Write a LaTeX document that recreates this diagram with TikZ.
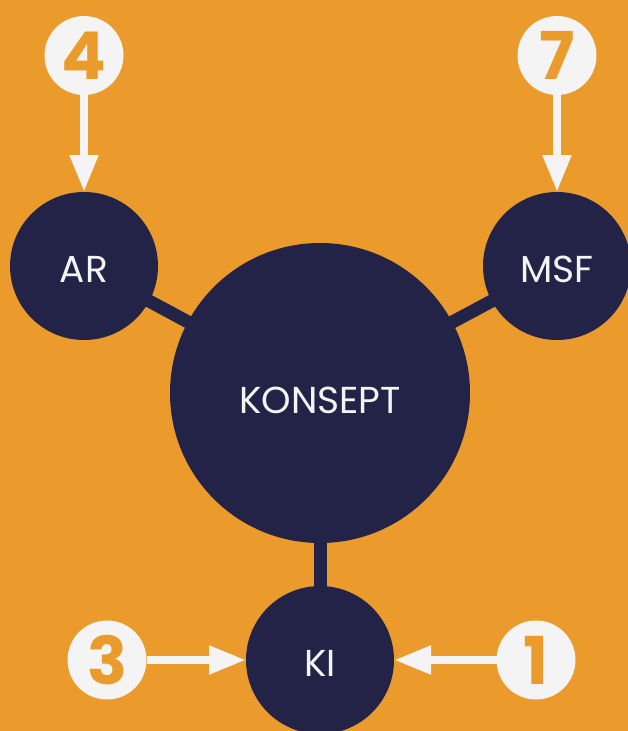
\documentclass[tikz,border=0pt]{standalone}
\usepackage{fontspec}
\setmainfont{Poppins}
\usetikzlibrary{arrows.meta}
\definecolor{bgorange}{HTML}{EB9B2C}
\definecolor{navy}{HTML}{222347}
\definecolor{offwhite}{HTML}{F4F4F4}
\tikzset{
  hub/.style={circle, fill=navy, text=offwhite, inner sep=0pt, outer sep=0pt,
    minimum size=148pt, text height=33pt, text depth=0pt,
    font=\fontsize{37.5}{42}\selectfont},
  num/.style={circle, fill=offwhite, text=bgorange, inner sep=0pt, outer sep=0pt,
    minimum size=79pt, font=\fontsize{66}{70}\selectfont\bfseries},
  link/.style={draw=navy, line width=13pt, shorten <=-1pt, shorten >=-1pt},
  pointer/.style={draw=offwhite, line width=8pt,
    -{Triangle[length=37pt, width=27pt]}}
}
\begin{document}
\begin{tikzpicture}[x=1pt, y=-1pt]
  % 背景
  \fill[bgorange] (0,0) rectangle (628,731);
  \useasboundingbox (0,0) rectangle (628,731);

  % 中心与三个小圆
  \node[hub, minimum size=300pt, text height=40pt] (konsept) at (320,393) {KONSEPT};
  \node[hub] (ar) at (84,266) {AR};
  \node[hub] (msf) at (557,266) {MSF};
  \node[hub] (ki) at (320,660) {KI};

  % 连接线
  \draw[link] (ar) -- (konsept);
  \draw[link] (msf) -- (konsept);
  \draw[link] (ki) -- (konsept);

  % 编号
  \node[num] (n4) at (84,55.5) {4};
  \node[num] (n7) at (557,55.5) {7};
  \node[num] (n3) at (107,660) {3};
  \node[num] (n1) at (536,660) {1};

  % 箭头
  \draw[pointer] (n4) -- (ar);
  \draw[pointer] (n7) -- (msf);
  \draw[pointer] (n3) -- (ki);
  \draw[pointer] (n1) -- (ki);
\end{tikzpicture}
\end{document}
